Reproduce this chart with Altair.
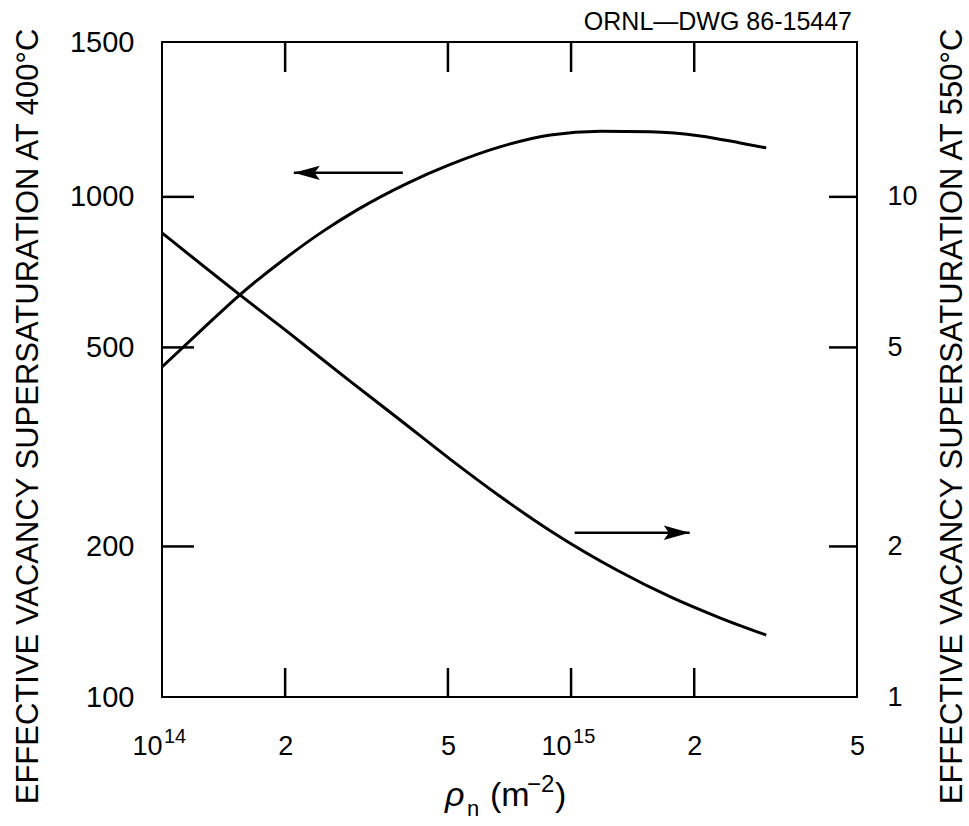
import altair as alt
import pandas as pd

# ---- data ----
rise_x = [1.0e14, 1.25e14, 1.55e14, 2.0e14, 2.5e14, 3.0e14, 4.0e14, 5.0e14,
          6.7e14, 8.9e14, 1.18e15, 1.56e15, 2.07e15, 2.59e15, 3.0e15]
rise_y = [457, 542, 637, 753, 858, 942, 1067, 1156,
          1259, 1330, 1352, 1349, 1324, 1282, 1253]

fall_x = [1.0e14, 1.55e14, 2.0e14, 2.85e14, 3.82e14, 5.06e14, 6.70e14,
          8.89e14, 1.30e15, 1.75e15, 2.31e15, 3.0e15]
fall_y = [8.47, 6.37, 5.42, 4.31, 3.58, 2.99, 2.52, 2.15, 1.79, 1.585, 1.44, 1.33]

x_ticks = [1e14, 2e14, 5e14, 1e15, 2e15, 5e15]
x_tick_labels = ["10", "2", "5", "10", "2", "5"]
x_exponents = ["14", "15"]
x_exponent_at = [1e14, 1e15]
x_minor_marks = [2e14, 5e14, 1e15, 2e15]

left_ticks = [100, 200, 500, 1000, 2040]
left_tick_labels = ["100", "200", "500", "1000", "1500"]
left_marks = [200, 500, 1000]

right_ticks = [1, 2, 5, 10]
right_tick_labels = ["1", "2", "5", "10"]
right_marks = [2, 5, 10]

arrow_left_from = [3.88e14]
arrow_left_to = [2.10e14]
arrow_left_level = [1117]

arrow_right_from = [1.02e15]
arrow_right_to = [1.95e15]
arrow_right_level = [2.13]

drawing_id = "ORNL—DWG 86-15447"
x_title_parts = ["ρ", "n", "(m", "−2", ")"]
left_title = "EFFECTIVE VACANCY SUPERSATURATION AT 400°C"
right_title = "EFFECTIVE VACANCY SUPERSATURATION AT 550°C"

W, H = 695, 655
FONT = "Liberation Sans"


def label_expr(vals, labels):
    parts = []
    for i in range(len(vals) - 1):
        mid = (vals[i] * vals[i + 1]) ** 0.5
        parts.append(f"datum.value < {mid:.6g} ? '{labels[i]}' : ")
    return "".join(parts) + f"'{labels[-1]}'"


xs = alt.Scale(type="log", domain=[1e14, 5e15], nice=False)
ysL = alt.Scale(type="log", domain=[100, 2040], nice=False)
ysR = alt.Scale(type="log", domain=[1, 20.4], nice=False)

x_axis = alt.Axis(values=x_ticks, labelExpr=label_expr(x_ticks, x_tick_labels),
                  title="", ticks=False, tickSize=0, domain=False, grid=False,
                  labelFontSize=27, labelPadding=36, labelFlush=False, labelOverlap=False,
                  labelAlign={"condition": {"test": "datum.value < 1.4e14 || (datum.value > 7e14 && datum.value < 1.4e15)",
                                            "value": "right"}, "value": "center"})
left_axis = alt.Axis(values=left_ticks, labelExpr=label_expr(left_ticks, left_tick_labels),
                     title=left_title, orient="left",
                     ticks=False, tickSize=0, domain=False, grid=False,
                     labelFontSize=29, labelPadding=28, labelOverlap=False,
                     titleFontSize=31, titleFontWeight="normal", titleAngle=270,
                     titleX=-134, titleY=374, titleBaseline="middle", titleAlign="center")
right_axis = alt.Axis(values=right_ticks, labelExpr=label_expr(right_ticks, right_tick_labels),
                      title=right_title, orient="right",
                      ticks=False, tickSize=0, domain=False, grid=False,
                      labelFontSize=27, labelPadding=30, labelOverlap=False,
                      titleFontSize=31, titleFontWeight="normal", titleAngle=270,
                      titleX=95, titleY=374, titleBaseline="middle", titleAlign="center")

xE = alt.X("x:Q", scale=xs, axis=x_axis)
yL = alt.Y("y:Q", scale=ysL, axis=left_axis)
yR = alt.Y("y:Q", scale=ysR, axis=right_axis)

df_rise = pd.DataFrame({"x": rise_x, "y": rise_y})
df_fall = pd.DataFrame({"x": fall_x, "y": fall_y})

rise = alt.Chart(df_rise).mark_line(color="black", strokeWidth=3, interpolate="monotone").encode(x=xE, y=yL)
fall = alt.Chart(df_fall).mark_line(color="black", strokeWidth=3, interpolate="monotone").encode(x=xE, y=yR)

df_xm = pd.DataFrame({"x": x_minor_marks})
bottom_ticks = alt.Chart(df_xm).mark_rule(color="black", strokeWidth=2.5).encode(
    x=xE, y=alt.value(H), y2=alt.value(H - 29))
top_ticks = alt.Chart(df_xm).mark_rule(color="black", strokeWidth=2.5).encode(
    x=xE, y=alt.value(0), y2=alt.value(30))
left_tk = alt.Chart(pd.DataFrame({"y": left_marks})).mark_rule(color="black", strokeWidth=2.5).encode(
    y=yL, x=alt.value(0), x2=alt.value(32))
right_tk = alt.Chart(pd.DataFrame({"y": right_marks})).mark_rule(color="black", strokeWidth=2.5).encode(
    y=yR, x=alt.value(W - 28), x2=alt.value(W))

# exponents of the 10^14 / 10^15 labels
exps = alt.Chart(pd.DataFrame({"x": x_exponent_at, "t": x_exponents})).mark_text(
    align="left", baseline="alphabetic", fontSize=20, dx=2, color="black", font=FONT).encode(
    x=xE, y=alt.value(H + 46), text="t:N")

head_left = "M0,0 L2,-0.55 L1.6,0 L2,0.55 Z"
head_right = "M0,0 L-2,-0.55 L-1.6,0 L-2,0.55 Z"

df_al = pd.DataFrame({"x": arrow_left_from, "x2": arrow_left_to, "y": arrow_left_level})
df_ar = pd.DataFrame({"x": arrow_right_from, "x2": arrow_right_to, "y": arrow_right_level})
df_alh = pd.DataFrame({"x": arrow_left_to, "y": arrow_left_level})
df_arh = pd.DataFrame({"x": arrow_right_to, "y": arrow_right_level})

al_rule = alt.Chart(df_al).mark_rule(color="black", strokeWidth=2.5).encode(x=xE, x2="x2:Q", y=yL)
al_head = alt.Chart(df_alh).mark_point(shape=head_left, filled=True, size=676, color="black",
                                       opacity=1, strokeWidth=0).encode(x=xE, y=yL)
ar_rule = alt.Chart(df_ar).mark_rule(color="black", strokeWidth=2.5).encode(x=xE, x2="x2:Q", y=yR)
ar_head = alt.Chart(df_arh).mark_point(shape=head_right, filled=True, size=676, color="black",
                                       opacity=1, strokeWidth=0).encode(x=xE, y=yR)


def text_piece(txt, x, y, size, align="left", style="normal"):
    return alt.Chart(pd.DataFrame({"t": [txt]})).mark_text(
        align=align, baseline="alphabetic", fontSize=size, font=FONT, color="black",
        fontStyle=style).encode(x=alt.value(x), y=alt.value(y), text="t:N")


# x-axis title: rho_n (m^-2)
xt = [
    text_piece(x_title_parts[0], 283, 764, 34, style="italic"),
    text_piece(x_title_parts[1], 305, 774, 22),
    text_piece(x_title_parts[2], 328, 764, 34),
    text_piece(x_title_parts[3], 365, 750, 24),
    text_piece(x_title_parts[4], 393, 764, 34),
]
dwg = text_piece(drawing_id, W - 5, -12, 25, align="right")

A = alt.layer(rise, al_rule, al_head, bottom_ticks, top_ticks, left_tk, exps, dwg, *xt)
B = alt.layer(fall, ar_rule, ar_head, right_tk)

chart = alt.layer(A, B).resolve_scale(y="independent").properties(
    width=W, height=H,
    padding={"left": 162, "top": 42, "right": 969 - 162 - W, "bottom": 826 - 42 - H},
    autosize="none",
).configure(font=FONT).configure_view(stroke="black", strokeWidth=2).configure_axis(
    labelColor="black", titleColor="black", labelFont=FONT, titleFont=FONT)

chart.save("out.html", embed_options={"renderer": "svg", "actions": False})
